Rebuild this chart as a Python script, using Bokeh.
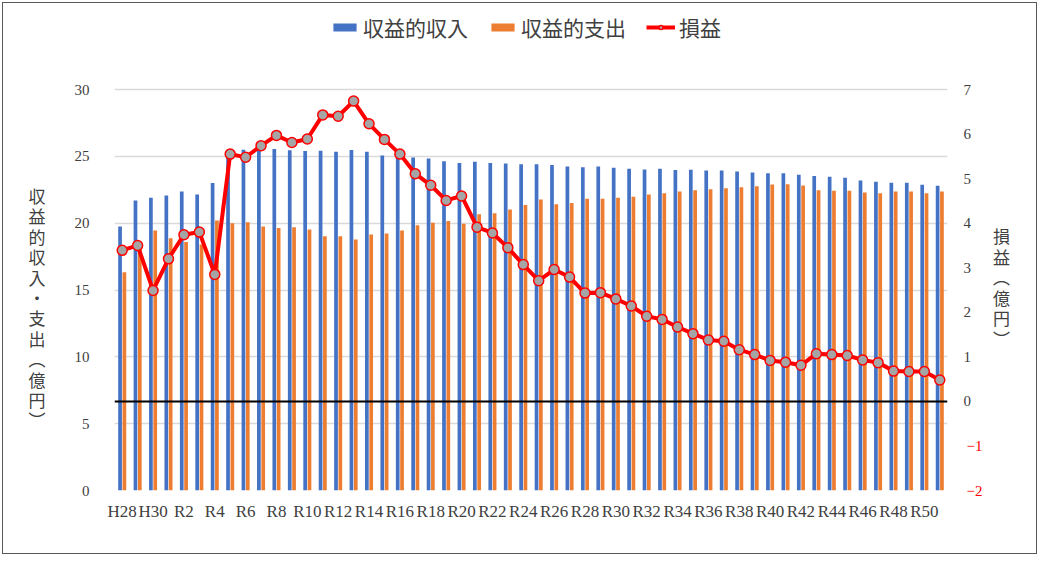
from bokeh.plotting import figure
from bokeh.layouts import row
from bokeh.models import (ColumnDataSource, LinearAxis, Range1d, FixedTicker,
                          Legend, LegendItem, Span, Div)
from bokeh.transform import dodge
from bokeh.embed import file_html
from bokeh.resources import INLINE

categories = ["H28", "H29", "H30", "R1", "R2", "R3", "R4", "R5", "R6", "R7",
              "R8", "R9", "R10", "R11", "R12", "R13", "R14", "R15", "R16", "R17",
              "R18", "R19", "R20", "R21", "R22", "R23", "R24", "R25", "R26", "R27",
              "R28", "R29", "R30", "R31", "R32", "R33", "R34", "R35", "R36", "R37",
              "R38", "R39", "R40", "R41", "R42", "R43", "R44", "R45", "R46", "R47",
              "R48", "R49", "R50", "R51"]

# 収益的収入 (億円)
revenue = [19.75, 21.70, 21.90, 22.07, 22.37, 22.14, 23.00, 25.50, 25.50, 25.50,
           25.55, 25.45, 25.40, 25.42, 25.35, 25.48, 25.35, 25.06, 24.95, 24.91,
           24.84, 24.64, 24.51, 24.59, 24.51, 24.46, 24.41, 24.41, 24.36, 24.24,
           24.19, 24.24, 24.14, 24.07, 24.02, 24.07, 23.98, 23.99, 23.94, 23.94,
           23.87, 23.79, 23.74, 23.74, 23.62, 23.52, 23.47, 23.39, 23.19, 23.09,
           23.02, 23.02, 22.87, 22.79]

# 収益的支出 (億円)
expense = [16.33, 18.20, 19.45, 18.88, 18.60, 18.40, 20.20, 20.00, 20.07, 19.75,
           19.63, 19.70, 19.53, 19.03, 19.03, 18.78, 19.15, 19.23, 19.45, 19.85,
           20.03, 20.17, 19.95, 20.67, 20.75, 21.02, 21.35, 21.77, 21.42, 21.50,
           21.82, 21.82, 21.90, 21.97, 22.14, 22.24, 22.37, 22.47, 22.54, 22.62,
           22.69, 22.77, 22.89, 22.92, 22.82, 22.47, 22.42, 22.42, 22.29, 22.24,
           22.37, 22.37, 22.24, 22.37]

# 損益 (億円)
profit = [3.39, 3.50, 2.49, 3.20, 3.74, 3.80, 2.85, 5.55, 5.48, 5.74,
          5.97, 5.81, 5.89, 6.43, 6.40, 6.74, 6.23, 5.88, 5.55, 5.11,
          4.85, 4.51, 4.61, 3.91, 3.78, 3.45, 3.07, 2.71, 2.96, 2.79,
          2.43, 2.44, 2.30, 2.14, 1.91, 1.84, 1.67, 1.52, 1.38, 1.35,
          1.16, 1.05, 0.92, 0.88, 0.81, 1.07, 1.05, 1.03, 0.93, 0.87,
          0.68, 0.67, 0.67, 0.48]

left_ticks = [0, 5, 10, 15, 20, 25, 30]
right_ticks_pos = [0, 1, 2, 3, 4, 5, 6, 7]
right_ticks_neg = [-2, -1]
series_names = ["収益的収入", "収益的支出", "損益"]
left_title = "収益的収入・支出（億円）"
right_title = "損益（億円）"

JP = "Noto Sans CJK JP"
NUM = "Liberation Serif"
TXT = "#404040"

# layout geometry (pixels)
H = 550          # figure height
TOP = 0          # frame starts at the top; legend lives inside the frame top
BOTTOM = 63      # space below frame
AXIS_PX = 401    # pixel height of the 0..30 axis span
FRAME_H = H - TOP - BOTTOM
scale = FRAME_H / AXIS_PX
left_end = left_ticks[0] + (left_ticks[-1] - left_ticks[0]) * scale
right_end = right_ticks_neg[0] + (right_ticks_pos[-1] - right_ticks_neg[0]) * scale

idx = list(range(len(categories)))
src = ColumnDataSource(dict(x=idx, revenue=revenue, expense=expense, profit=profit))

p = figure(width=914, height=H, output_backend="svg", toolbar_location=None,
           title=None, margin=0,
           x_range=Range1d(-0.5, len(categories) - 0.5),
           y_range=Range1d(left_ticks[0], left_end),
           min_border_left=42, min_border_right=38,
           min_border_top=TOP, min_border_bottom=BOTTOM)
p.extra_y_ranges = {"right": Range1d(right_ticks_neg[0], right_end)}
p.outline_line_color = None
p.background_fill_color = "white"
p.border_fill_color = "white"

# grid
p.xgrid.visible = False
p.ygrid.ticker = FixedTicker(ticks=left_ticks)
p.ygrid.grid_line_color = "#d9d9d9"
p.ygrid.grid_line_width = 1.5

# bars
r_rev = p.vbar(x=dodge("x", -0.14), top="revenue", width=0.24, source=src,
               fill_color="#4472C4", line_color=None)
r_exp = p.vbar(x=dodge("x", 0.14), top="expense", width=0.24, source=src,
               fill_color="#ED7D31", line_color=None)

# zero line of the secondary axis
p.add_layout(Span(location=0, dimension="width", y_range_name="right",
                  line_color="black", line_width=2))

# profit line
r_line = p.line(x="x", y="profit", source=src, y_range_name="right",
                line_color="#FF0000", line_width=4)
r_pts = p.scatter(x="x", y="profit", source=src, y_range_name="right",
                  size=10, fill_color="#A5A5A5", line_color="#FF0000",
                  line_width=1.5)


def style_axis(ax, standoff, size="15px", color=TXT):
    ax.axis_line_color = None
    ax.major_tick_line_color = None
    ax.minor_tick_line_color = None
    ax.major_tick_out = 0
    ax.major_tick_in = 0
    ax.major_label_standoff = standoff
    ax.major_label_text_font = NUM
    ax.major_label_text_font_size = size
    ax.major_label_text_color = color


# x axis
xa = p.xaxis[0]
xa.ticker = FixedTicker(ticks=idx[::2])
xa.major_label_overrides = {i: categories[i] for i in idx}
style_axis(xa, 11, "17px")

# left axis
ya = p.yaxis[0]
ya.ticker = FixedTicker(ticks=left_ticks)
style_axis(ya, 25)

# right axis: black labels (inner), red negative labels (outer, pulled back)
ra_pos = LinearAxis(y_range_name="right", ticker=FixedTicker(ticks=right_ticks_pos))
style_axis(ra_pos, 16)
p.add_layout(ra_pos, "right")
ra_neg = LinearAxis(y_range_name="right", ticker=FixedTicker(ticks=right_ticks_neg),
                    major_label_overrides={t: "−" + str(abs(t)) for t in right_ticks_neg})
style_axis(ra_neg, -8, color="#FF0000")
p.add_layout(ra_neg, "right")

legend = Legend(items=[LegendItem(label=series_names[0], renderers=[r_rev]),
                       LegendItem(label=series_names[1], renderers=[r_exp]),
                       LegendItem(label=series_names[2], renderers=[r_line, r_pts])],
                orientation="horizontal", location=(216, 448),
                glyph_width=29, glyph_height=10, label_standoff=4, spacing=20,
                padding=2, border_line_color=None, background_fill_alpha=0,
                label_text_font=JP, label_text_font_size="21px",
                label_text_color=TXT)
p.add_layout(legend)

vstyle = ("writing-mode: vertical-rl; font-family: 'Noto Sans CJK JP'; "
          "font-size: 17px; color: #404040; letter-spacing: %s; "
          "margin: 0 auto; line-height: 1;")
left_div = Div(text='<div style="%s">%s</div>' % (vstyle % "3.4px", left_title),
               width=68, height=H, margin=0,
               styles={"padding-top": "185px", "box-sizing": "border-box",
                       "text-align": "center"})
right_div = Div(text='<div style="%s">%s</div>' % (vstyle % "3.6px", right_title),
                width=51, height=H, margin=0,
                styles={"padding-top": "225px", "box-sizing": "border-box",
                        "padding-left": "8px"})

layout = row(left_div, p, right_div, spacing=0,
             styles={"border": "1px solid #595959", "background-color": "white",
                     "margin": "2px 0 0 2px"})

open("out.html", "w").write(file_html(layout, INLINE))
